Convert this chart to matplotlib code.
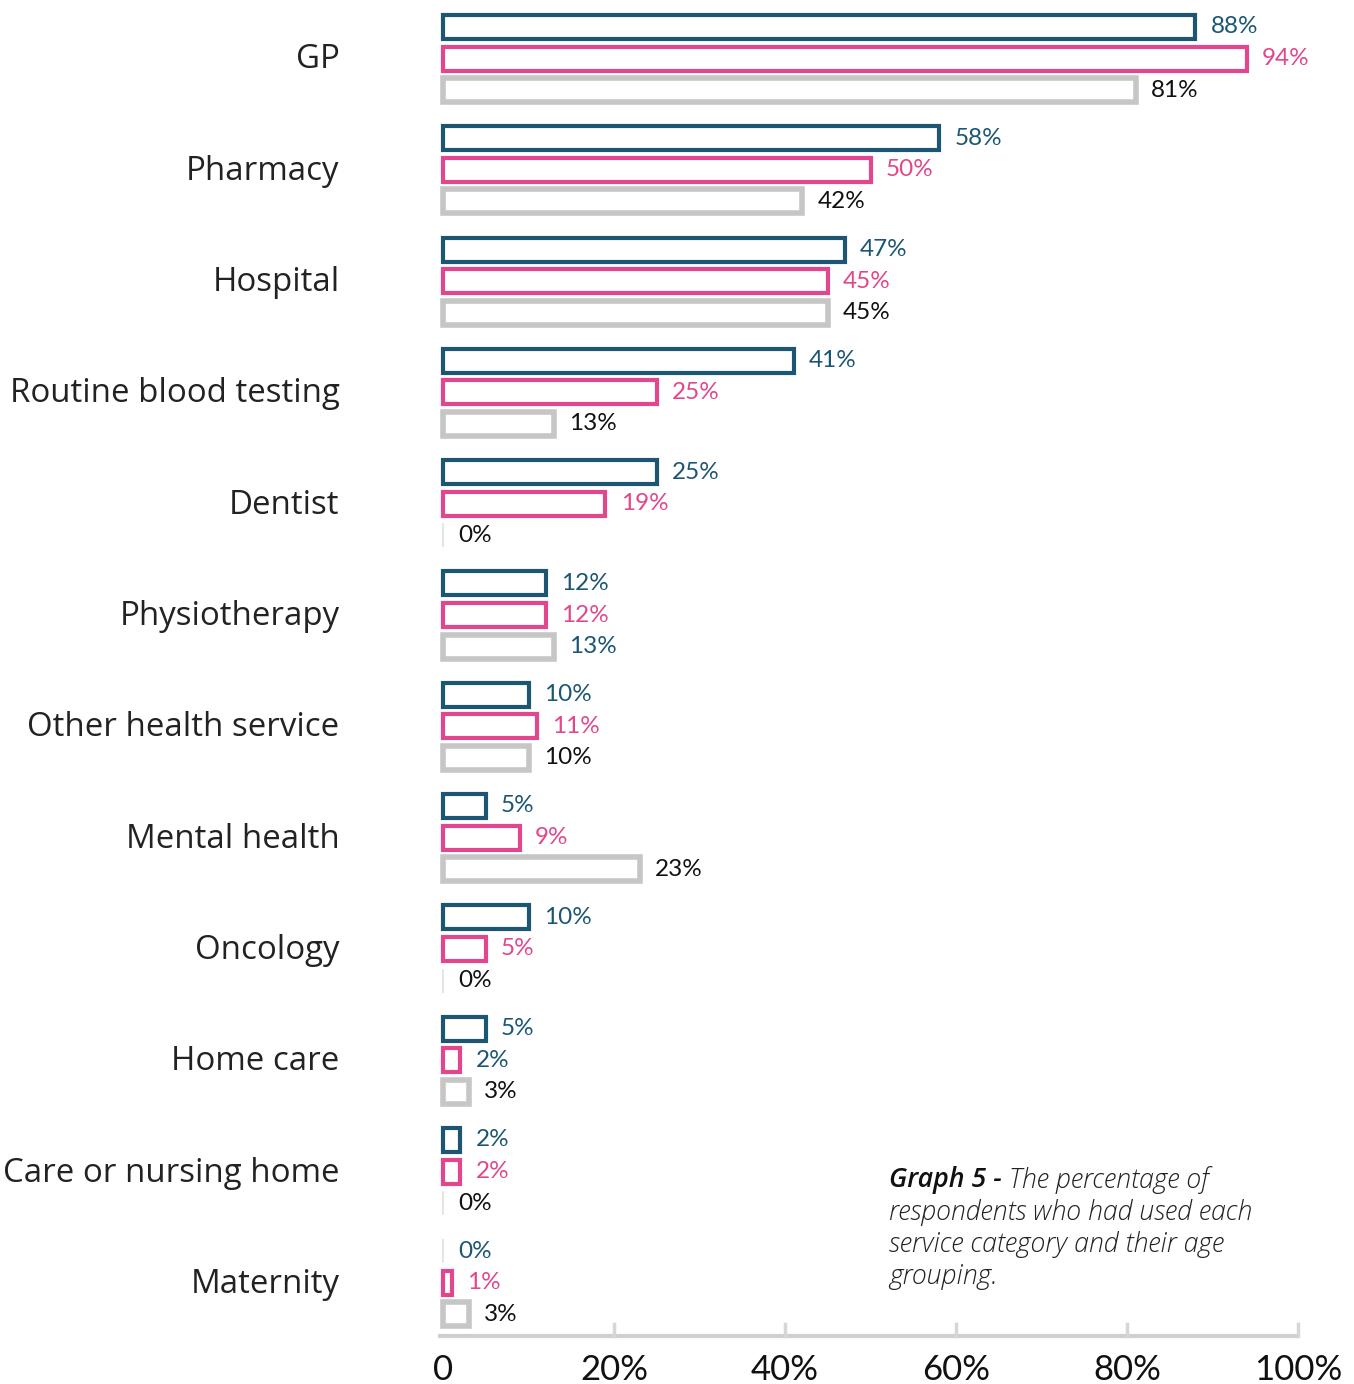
import matplotlib.pyplot as plt
from matplotlib.patches import Rectangle

categories = [
    "GP",
    "Pharmacy",
    "Hospital",
    "Routine blood testing",
    "Dentist",
    "Physiotherapy",
    "Other health service",
    "Mental health",
    "Oncology",
    "Home care",
    "Care or nursing home",
    "Maternity",
]
series_teal = [88, 58, 47, 41, 25, 12, 10, 5, 10, 5, 2, 0]
series_pink = [94, 50, 45, 25, 19, 12, 11, 9, 5, 2, 2, 1]
series_grey = [81, 42, 45, 13, 0, 13, 10, 23, 0, 3, 0, 3]
x_ticks = [0, 20, 40, 60, 80, 100]
x_tick_labels = ["0", "20%", "40%", "60%", "80%", "100%"]

TEAL = "#1c5673"
PINK = "#e2468c"
GREY = "#c6c6c6"
INK = "#111111"

# label colours per bar (a couple of labels are printed in teal in the source report)
teal_label_colors = [TEAL] * 12
pink_label_colors = [PINK] * 12
pink_label_colors[9] = TEAL
grey_label_colors = [INK] * 12
grey_label_colors[5] = TEAL

FONT = ["Lato", "DejaVu Sans"]
CAT_FONT = ["Open Sans", "DejaVu Sans"]

W, H, DPI = 1354, 1384, 100
fig = plt.figure(figsize=(W / DPI, H / DPI), dpi=DPI)
fig.patch.set_facecolor("white")

x0_px, x1_px = 443, 1298
axis_px = 1337
ax = fig.add_axes([x0_px / W, (H - axis_px) / H, (x1_px - x0_px) / W, axis_px / H])
ax.set_xlim(0, 100)
ax.set_ylim(axis_px, 0)
ax.axis("off")

group_step = 111.3
first_mid = 58.5
inner_step = 31.6
bar_h = 24

series = [
    (series_teal, TEAL, 3.0, teal_label_colors, -1),
    (series_pink, PINK, 3.0, pink_label_colors, 0),
    (series_grey, GREY, 4.0, grey_label_colors, 1),
]

for i, cat in enumerate(categories):
    mid = first_mid + i * group_step
    ax.text(-12.1, mid + 1.5, cat, ha="right", va="center", fontsize=23.8,
            weight="medium", color="#222222", family=CAT_FONT)
    for values, color, lw, label_colors, slot in series:
        v = values[i]
        yc = mid + slot * inner_step
        edge = color if v > 0 else "#e6e6e6"
        ax.add_patch(Rectangle((0, yc - bar_h / 2), v, bar_h, facecolor="white",
                               edgecolor=edge, linewidth=lw if v > 0 else 1.5,
                               clip_on=False, zorder=3))
        ax.annotate(f"{v}%", (v, yc), xytext=(11, 0), textcoords="offset points",
                    ha="left", va="center", fontsize=17.5, color=label_colors[i],
                    family=FONT, annotation_clip=False)

# baseline with upward ticks
ax.plot([-0.6, 100], [axis_px - 1, axis_px - 1], color="#cfcfcf", lw=3,
        solid_capstyle="butt", clip_on=False)
for t, lab in zip(x_ticks, x_tick_labels):
    if t > 0:
        ax.plot([t, t], [axis_px - 1, axis_px - 13], color="#d6d6d6", lw=2.5,
                clip_on=False)
    ax.text(t, axis_px + 33, lab, ha="center", va="center", fontsize=25,
            color=INK, family=FONT, clip_on=False)

# caption block
cap_x = 889 / W
line_gap = 32 / H
cap_size = 19.3
cap_lines = [
    "respondents who had used each",
    "service category and their age",
    "grouping.",
]
y0 = 1 - 1180 / H
t1 = fig.text(cap_x, y0, "Graph 5 - ", ha="left", va="center", fontsize=cap_size,
              style="italic", weight="semibold", color="#111111", family=CAT_FONT)
fig.canvas.draw()
bb = t1.get_window_extent()
fig.text(bb.x1 / W, y0, "The percentage of", ha="left", va="center",
         fontsize=cap_size, style="italic", weight="light", color="#222222",
         family=CAT_FONT)
for k, line in enumerate(cap_lines, start=1):
    fig.text(cap_x, y0 - k * line_gap, line, ha="left", va="center",
             fontsize=cap_size, style="italic", weight="light", color="#222222",
             family=CAT_FONT)

fig.savefig("out.png", dpi=DPI, facecolor="white")
